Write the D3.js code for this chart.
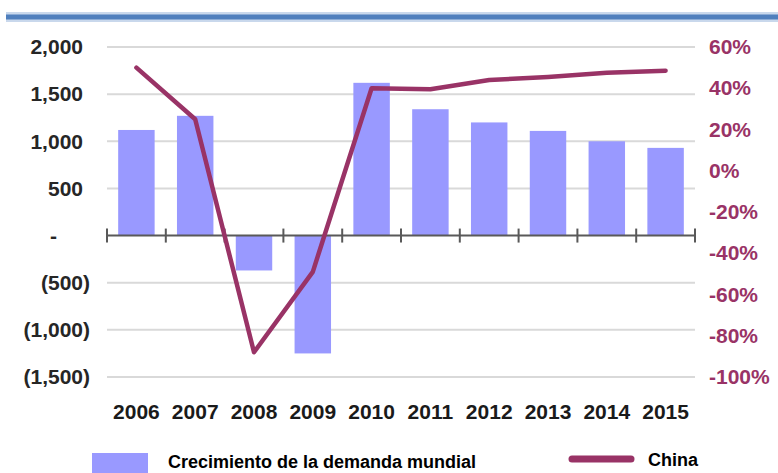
<!DOCTYPE html>
<html>
<head>
<meta charset="utf-8">
<script src="https://cdn.jsdelivr.net/npm/d3@7/dist/d3.min.js"></script>
<style>
  html, body { margin: 0; padding: 0; background: #fff; }
  svg { display: block; }
  text { font-family: "Liberation Sans", Arial, sans-serif; font-weight: bold; }
</style>
</head>
<body>
<svg id="chart" width="778" height="473"></svg>
<script>
const years = ["2006","2007","2008","2009","2010","2011","2012","2013","2014","2015"];
const demandGrowth = [1120, 1270, -370, -1250, 1620, 1340, 1200, 1110, 1000, 930];
const chinaPct = [50, 25, -88, -49, 40, 39.5, 44, 45.5, 47.5, 48.5];
const leftTicks = [2000, 1500, 1000, 500, 0, -500, -1000, -1500];
const rightTicks = [60, 40, 20, 0, -20, -40, -60, -80, -100];
const legendLabels = ["Crecimiento de la demanda mundial", "China"];

const svg = d3.select("#chart");
const barColor = "#9999ff";
const lineColor = "#993366";

const x = d3.scaleBand().domain(years).range([107, 695]).paddingInner(0.38).paddingOuter(0.19);
const yL = d3.scaleLinear().domain([-1500, 2000]).range([377, 47]);
const yR = d3.scaleLinear().domain([-100, 60]).range([377, 47]);

// top blue rule
svg.append("line").attr("x1", 6).attr("x2", 778).attr("y1", 17).attr("y2", 17)
  .attr("stroke", "#c9d8ec").attr("stroke-width", 10);
svg.append("line").attr("x1", 6).attr("x2", 778).attr("y1", 17).attr("y2", 17)
  .attr("stroke", "#4f7fbd").attr("stroke-width", 5);

// gridlines
svg.append("g").selectAll("line").data(leftTicks.filter(d => d !== 0)).join("line")
  .attr("x1", 107).attr("x2", 695)
  .attr("y1", d => yL(d)).attr("y2", d => yL(d))
  .attr("stroke", "#d9d9d9").attr("stroke-width", 2);

// left axis labels (accounting style)
const fmtL = d => d === 0 ? "-" : (d < 0 ? "(" + d3.format(",")(-d) + ")" : d3.format(",")(d));
const leftAxis = d3.axisLeft(yL).tickValues(leftTicks).tickFormat(fmtL).tickSize(0).tickPadding(0);
const gL = svg.append("g").attr("transform", "translate(90,0)").call(leftAxis);
gL.select(".domain").remove();
gL.selectAll("text")
  .attr("font-size", 21).attr("fill", "#262626")
  .attr("font-family", "'Liberation Sans', Arial, sans-serif").attr("font-weight", "bold")
  .attr("dx", d => d === 0 ? -33 : (d < 0 ? 0 : -7));

// right axis labels
const rightAxis = d3.axisRight(yR).tickValues(rightTicks).tickFormat(d => d + "%").tickSize(0).tickPadding(0);
const gR = svg.append("g").attr("transform", "translate(709,0)").call(rightAxis);
gR.select(".domain").remove();
gR.selectAll("text")
  .attr("font-size", 21).attr("fill", lineColor)
  .attr("font-family", "'Liberation Sans', Arial, sans-serif").attr("font-weight", "bold");

// bars
svg.append("g").selectAll("rect").data(years).join("rect")
  .attr("x", d => x(d))
  .attr("width", x.bandwidth())
  .attr("y", (d, i) => yL(Math.max(0, demandGrowth[i])))
  .attr("height", (d, i) => Math.abs(yL(demandGrowth[i]) - yL(0)))
  .attr("fill", barColor);

// zero axis with ticks at band boundaries
const bottomAxis = d3.axisBottom(x).tickSize(0).tickFormat(d => d).tickPadding(0);
const gB = svg.append("g").attr("transform", `translate(0,${yL(0)})`);
gB.append("line").attr("x1", 107).attr("x2", 695).attr("y1", 0).attr("y2", 0)
  .attr("stroke", "#595959").attr("stroke-width", 2);
const boundaries = years.map(d => x(d) - x.step() * x.paddingInner() / 2).concat([695]);
boundaries[0] = 107;
gB.selectAll("line.tk").data(boundaries).join("line").attr("class", "tk")
  .attr("x1", d => d).attr("x2", d => d).attr("y1", -7).attr("y2", 7)
  .attr("stroke", "#595959").attr("stroke-width", 2);

// year labels
const gX = svg.append("g").attr("transform", "translate(0,404)").call(bottomAxis);
gX.select(".domain").remove();
gX.selectAll("text")
  .attr("font-size", 21).attr("fill", "#1a1a1a")
  .attr("font-family", "'Liberation Sans', Arial, sans-serif").attr("font-weight", "bold");

// China line
const line = d3.line().x((d, i) => x(years[i]) + x.bandwidth() / 2).y(d => yR(d));
svg.append("path").datum(chinaPct).attr("d", line)
  .attr("fill", "none").attr("stroke", lineColor).attr("stroke-width", 4.5)
  .attr("stroke-linejoin", "round").attr("stroke-linecap", "round");

// legend
const lg = svg.append("g");
lg.append("rect").attr("x", 92).attr("y", 453).attr("width", 56).attr("height", 22).attr("fill", barColor);
lg.append("text").attr("x", 168).attr("y", 468).attr("font-size", 18).attr("fill", "#000").text(legendLabels[0]);
lg.append("line").attr("x1", 572).attr("x2", 631).attr("y1", 459).attr("y2", 459)
  .attr("stroke", lineColor).attr("stroke-width", 7).attr("stroke-linecap", "round");
lg.append("text").attr("x", 648).attr("y", 466).attr("font-size", 18).attr("fill", "#000").text(legendLabels[1]);
</script>
</body>
</html>
